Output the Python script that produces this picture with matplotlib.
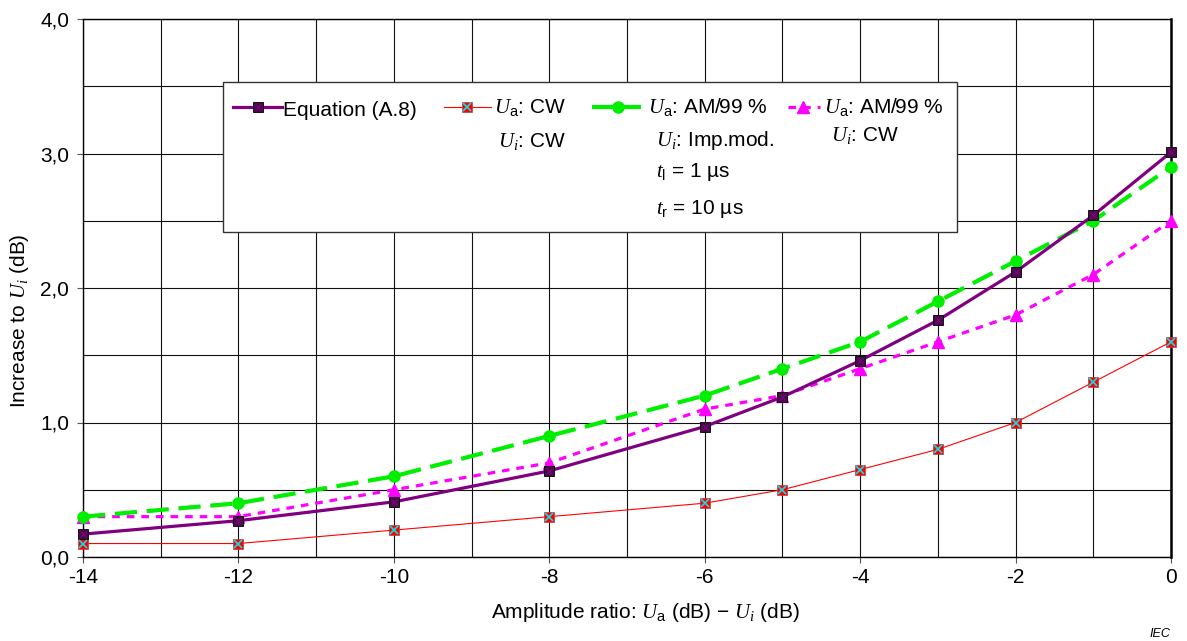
import matplotlib
matplotlib.use("Agg")
import matplotlib.pyplot as plt
from matplotlib.patches import Rectangle
from matplotlib.ticker import MultipleLocator, FuncFormatter

plt.rcParams['font.family'] = ['Liberation Sans', 'DejaVu Sans']
plt.rcParams['mathtext.fontset'] = 'custom'
plt.rcParams['mathtext.it'] = 'Liberation Serif:italic'
plt.rcParams['mathtext.rm'] = 'Liberation Sans'
plt.rcParams['mathtext.default'] = 'it'
plt.rcParams['lines.scale_dashes'] = False

# ---- data ----
x_eq = [-14, -12, -10, -8, -6, -5, -4, -3, -2, -1, 0]
y_eq = [0.17, 0.27, 0.41, 0.64, 0.97, 1.19, 1.46, 1.76, 2.12, 2.54, 3.01]
x_cw = [-14, -12, -10, -8, -6, -5, -4, -3, -2, -1, 0]
y_cw = [0.1, 0.1, 0.2, 0.3, 0.4, 0.5, 0.65, 0.8, 1.0, 1.3, 1.6]
x_imp = [-14, -12, -10, -8, -6, -5, -4, -3, -2, -1, 0]
y_imp = [0.3, 0.4, 0.6, 0.9, 1.2, 1.4, 1.6, 1.9, 2.2, 2.5, 2.9]
x_am = [-14, -12, -10, -8, -6, -5, -4, -3, -2, -1, 0]
y_am = [0.3, 0.3, 0.5, 0.7, 1.1, 1.2, 1.4, 1.6, 1.8, 2.1, 2.5]

FS = 15
W, H = 1187, 641
fig = plt.figure(figsize=(W / 100, H / 100), dpi=100)
L, R, T, B = 83, 1171, 19, 557
ax = fig.add_axes([L / W, 1 - B / H, (R - L) / W, (B - T) / H])

PURPLE = '#800080'
DPURP = '#4a0a4a'
RED = '#ff0000'
CYAN = '#00e5ee'
GREEN = '#00ee00'
MAG = '#ff00ff'

def style_eq(a, x, y):
    a.plot(x, y, color=PURPLE, lw=2.3, zorder=5, clip_on=False)
    a.plot(x, y, ls='none', marker='s', ms=7, mfc=DPURP, mec='black', mew=0.6, zorder=6, clip_on=False)
    a.plot(x, y, ls='none', marker='x', ms=5, mec=PURPLE, mew=0.8, zorder=7, clip_on=False)

def style_cw(a, x, y):
    a.plot(x, y, color=RED, lw=0.8, zorder=5, clip_on=False)
    a.plot(x, y, ls='none', marker='s', ms=7, mfc=RED, mec='#aa4444', mew=0.5, zorder=6, clip_on=False)
    a.plot(x, y, ls='none', marker='x', ms=6, mec=CYAN, mew=1.2, zorder=7, clip_on=False)

def style_imp(a, x, y):
    a.plot(x, y, color=GREEN, lw=3.0, dashes=(16, 7), marker='o', ms=8,
           mfc=GREEN, mec=GREEN, zorder=4, clip_on=False)

def style_am(a, x, y):
    a.plot(x, y, color=MAG, lw=2.3, dashes=(5.5, 5), marker='^', ms=8,
           mfc=MAG, mec=MAG, zorder=4, clip_on=False)

style_am(ax, x_am, y_am)
style_imp(ax, x_imp, y_imp)
style_cw(ax, x_cw, y_cw)
style_eq(ax, x_eq, y_eq)

ax.set_xlim(-14, 0)
ax.set_ylim(0, 4)
ax.xaxis.set_major_locator(MultipleLocator(2))
ax.xaxis.set_minor_locator(MultipleLocator(1))
ax.yaxis.set_major_locator(MultipleLocator(1))
ax.yaxis.set_minor_locator(MultipleLocator(0.5))
ax.xaxis.set_major_formatter(FuncFormatter(lambda v, p: f"{v:.0f}"))
ax.yaxis.set_major_formatter(FuncFormatter(lambda v, p: f"{v:.1f}".replace('.', ',')))
ax.grid(True, which='both', color='#111111', lw=0.8)
ax.set_axisbelow(True)
ax.tick_params(which='major', direction='out', length=4, width=0.8, labelsize=FS, color='#555555')
ax.tick_params(which='minor', length=0)
ax.tick_params(axis='x', pad=4)
ax.tick_params(axis='y', pad=6)
for s in ax.spines.values():
    s.set_linewidth(1.0)
    s.set_color('black')
ax.spines['right'].set_linewidth(1.8)

# axis labels
fig.text(20 / W, 1 - 321 / H, r"Increase to $U_i$ (dB)", rotation=90,
         ha='center', va='center', fontsize=FS)
fig.text(646 / W, 1 - 612 / H, r"Amplitude ratio: $U_\mathrm{a}$ (dB) $-$ $U_i$ (dB)",
         ha='center', va='center', fontsize=FS)
fig.text(1170 / W, 1 - 634 / H, "IEC", ha='right', va='center', fontsize=9, style='italic')

# ---- legend (drawn in figure pixel coordinates) ----
def fx(p):
    return p / W

def fy(p):
    return 1 - p / H

box = Rectangle((fx(223), fy(232)), fx(957) - fx(223), fy(82) - fy(232),
                transform=fig.transFigure, facecolor='white', edgecolor='#333333',
                lw=1.0, zorder=10)
fig.add_artist(box)

lax = fig.add_axes([0, 0, 1, 1], zorder=11)
lax.set_xlim(0, W)
lax.set_ylim(H, 0)
lax.axis('off')
lax.patch.set_alpha(0)

lax.plot([233, 282], [107, 107], color=PURPLE, lw=2.3)
lax.plot([258], [107], ls='none', marker='s', ms=7, mfc=DPURP, mec='black', mew=0.6)
lax.plot([258], [107], ls='none', marker='x', ms=5, mec=PURPLE, mew=0.8)
lax.text(283, 111, "Equation (A.8)", ha='left', va='center', fontsize=FS)

lax.plot([444, 491], [107, 107], color=RED, lw=0.8)
lax.plot([467], [107], ls='none', marker='s', ms=7, mfc=RED, mec='#aa4444', mew=0.5)
lax.plot([467], [107], ls='none', marker='x', ms=6, mec=CYAN, mew=1.2)
lax.text(494, 107, r"$U_\mathrm{a}$: CW", ha='left', va='center', fontsize=FS)
lax.text(498, 141, r"$U_i$: CW", ha='left', va='center', fontsize=FS)

lax.plot([592, 641], [107, 107], color=GREEN, lw=3.0, dashes=(16, 7))
lax.plot([618], [107], ls='none', marker='o', ms=8, mfc=GREEN, mec=GREEN)
lax.text(648, 107, r"$U_\mathrm{a}$: AM/99 %", ha='left', va='center', fontsize=FS)
lax.text(656, 140, r"$U_i$: Imp.mod.", ha='left', va='center', fontsize=FS)
lax.text(656, 172, r"$t_\mathrm{l}$ = 1 µs", ha='left', va='center', fontsize=FS)
lax.text(656, 209, r"$t_\mathrm{r}$ = 10 µs", ha='left', va='center', fontsize=FS)

lax.plot([788, 820], [107, 107], color=MAG, lw=2.3, dashes=(5.5, 5))
lax.plot([803], [107], ls='none', marker='^', ms=8, mfc=MAG, mec=MAG)
lax.text(824, 107, r"$U_\mathrm{a}$: AM/99 %", ha='left', va='center', fontsize=FS)
lax.text(831, 135, r"$U_i$: CW", ha='left', va='center', fontsize=FS)

fig.savefig("out.png", dpi=100)
